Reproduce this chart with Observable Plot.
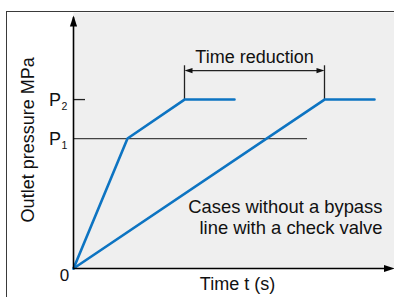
<!DOCTYPE html>
<html>
<head>
<meta charset="utf-8">
<script src="https://cdn.jsdelivr.net/npm/d3@7"></script>
<script src="https://cdn.jsdelivr.net/npm/@observablehq/plot@0.6"></script>
<style>
  html, body { margin: 0; padding: 0; background: #fff; }
  #wrap { position: relative; width: 394px; height: 297px; overflow: hidden; }
  #border { position: absolute; left: 6px; top: 11px; width: 420px; height: 320px;
            border-top: 1.6px solid #3a3a3a; border-left: 1.8px solid #3a3a3a; pointer-events: none; }
</style>
</head>
<body>
<div id="wrap"><div id="border"></div></div>
<script>
// Pressure levels
const P1 = 1.0;
const P2 = 1.3;
// Curve with bypass line (fast)
const fastT = [0, 1.08, 2.22, 3.22];
const fastP = [0, P1, P2, P2];
// Curve without bypass line (slow)
const slowT = [0, 5.02, 6.02];
const slowP = [0, P2, P2];
// P1 reference line end
const p1LineEnd = 4.68;
// Y tick labels
const yTickLabels = ["P", "P"];
const yTickSubs = ["2", "1"];
const yTickValues = [P2, P1];
// Texts
const yLabel = "Outlet pressure MPa";
const xLabel = "Time t (s)";
const reductionLabel = "Time reduction";
const caseLabel = "Cases without a bypass\nline with a check valve";
const originLabel = "0";

const xMax = 6.42, yMax = 1.97;
const reductionY = 1.523, reductionTickTop = 1.56;
const tA = fastT[2], tB = slowT[1];

const fastData = fastT.map((t, i) => ({t, p: fastP[i]}));
const slowData = slowT.map((t, i) => ({t, p: slowP[i]}));

const axisHead = {draw(ctx) { ctx.moveTo(0, 0); ctx.lineTo(3.6, 11); ctx.lineTo(-3.6, 11); ctx.closePath(); }};
const smallHead = {draw(ctx) { ctx.moveTo(0, 0); ctx.lineTo(2.6, 8); ctx.lineTo(-2.6, 8); ctx.closePath(); }};

const blue = "#0d74c2";
const font = "'Liberation Sans', Arial, sans-serif";

const chart = Plot.plot({
  width: 394,
  height: 297,
  marginLeft: 73,
  marginRight: 0,
  marginTop: 12,
  marginBottom: 29,
  x: {domain: [0, xMax], axis: null},
  y: {domain: [0, yMax], axis: null},
  style: {fontFamily: font, fontSize: "18px", background: "transparent", overflow: "visible"},
  marks: [
    Plot.frame({fill: "#efefef", stroke: "none"}),
    // P1 reference line and P2 tick
    Plot.ruleY([P1], {x1: 0, x2: p1LineEnd, stroke: "#444", strokeWidth: 1.3}),
    Plot.ruleY([P2], {x1: 0, x2: 0.24, stroke: "#222", strokeWidth: 1.3}),
    // time reduction bracket
    Plot.ruleX([tA, tB], {y1: P2, y2: reductionTickTop, stroke: "#222", strokeWidth: 1.3}),
    Plot.ruleY([reductionY], {x1: tA + 0.1, x2: tB - 0.1, stroke: "#222", strokeWidth: 1.1}),
    Plot.dot([{x: tA, r: -90}, {x: tB, r: 90}], {x: "x", y: () => reductionY, rotate: "r", symbol: smallHead, fill: "#111", stroke: "none"}),
    // curves
    Plot.line(fastData, {x: "t", y: "p", stroke: blue, strokeWidth: 2.6, strokeLinejoin: "miter"}),
    Plot.line(slowData, {x: "t", y: "p", stroke: blue, strokeWidth: 2.6, strokeLinejoin: "miter"}),
    // axes
    Plot.ruleX([0], {y1: 0, y2: 1.93, stroke: "#000", strokeWidth: 1.6}),
    Plot.ruleY([0], {x1: 0, x2: 6.3, stroke: "#000", strokeWidth: 1.6}),
    Plot.dot([{x: 0, y: 1.946, r: 0}, {x: 6.43, y: 0, r: 90}], {x: "x", y: "y", rotate: "r", symbol: axisHead, fill: "#000", stroke: "none"}),
    // texts
    Plot.text(yTickValues, {x: 0, y: d => d, text: (d, i) => yTickLabels[i], textAnchor: "end", dx: -12.5, dy: 1, fontSize: 18, fill: "#111"}),
    Plot.text(yTickValues, {x: 0, y: d => d, text: (d, i) => yTickSubs[i], textAnchor: "start", dx: -12, dy: 7, fontSize: 10.5, fill: "#111"}),
    Plot.text([originLabel], {x: 0, y: -0.1, dx: -9, textAnchor: "middle", lineAnchor: "bottom", fontSize: 17, fill: "#111"}),
    Plot.text([xLabel], {x: 3.28, y: -0.163, textAnchor: "middle", lineAnchor: "bottom", fill: "#111"}),
    Plot.text([yLabel], {x: -0.8, y: 0.99, rotate: -90, textAnchor: "middle", lineAnchor: "bottom", fill: "#111"}),
    Plot.text([reductionLabel], {x: (tA + tB) / 2, y: 1.585, textAnchor: "middle", lineAnchor: "bottom", fill: "#111"}),
    Plot.text([caseLabel], {x: 6.18, y: 0.269, textAnchor: "end", lineAnchor: "bottom", lineHeight: 1.12, fontSize: 18.4, fill: "#111"})
  ]
});
chart.style.position = "absolute";
chart.style.left = "0";
chart.style.top = "0";
document.getElementById("wrap").prepend(chart);
</script>
</body>
</html>
